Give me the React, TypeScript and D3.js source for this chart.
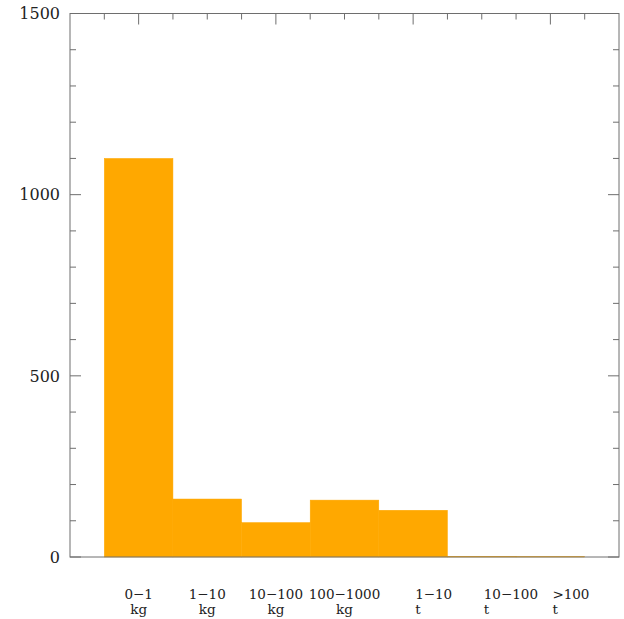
import React from "react";
import * as d3 from "d3";

// mass bins and counts
const categories = ["0−1", "1−10", "10−100", "100−1000", "1−10", "10−100", ">100"];
const units = ["kg", "kg", "kg", "kg", "t", "t", "t"];
const counts = [1100, 160, 95, 157, 129, 2, 1];
const yTicks = [0, 500, 1000, 1500];

const W = 624;
const H = 619;
const margin = { top: 13.5, right: 5, bottom: 62, left: 70 };

export default function App() {
  const x = d3.scaleLinear().domain([0, 8]).range([margin.left, W - margin.right]);
  const y = d3.scaleLinear().domain([0, 1500]).range([H - margin.bottom, margin.top]);

  const yMinor = d3.range(0, 1501, 100);
  const xMinor = d3.range(0.5, 8, 0.5);
  const frame = "#6e6e6e";
  const font = "DejaVu Serif, serif";

  return (
    <svg
      width={W}
      height={H}
      style={{ position: "absolute", left: 0, top: 0, background: "#fff" }}
    >
      {/* bars */}
      {counts.map((d, i) => (
        <rect
          key={"b" + i}
          x={x(i + 0.5)}
          y={y(d)}
          width={x(i + 1.5) - x(i + 0.5)}
          height={y(0) - y(d)}
          fill="#FFA800"
          stroke="#FFA800"
          strokeWidth={0.5}
        />
      ))}

      {/* frame */}
      <rect
        x={x(0)}
        y={y(1500)}
        width={x(8) - x(0)}
        height={y(0) - y(1500)}
        fill="none"
        stroke={frame}
        strokeWidth={1}
      />

      {/* left & right ticks */}
      {yMinor.map((v) => {
        const len = v % 500 === 0 ? 11 : 6;
        return (
          <g key={"y" + v} stroke={frame} strokeWidth={1}>
            <line x1={x(0)} x2={x(0) + len} y1={y(v)} y2={y(v)} />
            <line x1={x(8)} x2={x(8) - len} y1={y(v)} y2={y(v)} />
          </g>
        );
      })}

      {/* top ticks */}
      {xMinor.map((v) => {
        const len = v % 2 === 1 ? 11 : 6;
        return (
          <line
            key={"x" + v}
            x1={x(v)}
            x2={x(v)}
            y1={y(1500)}
            y2={y(1500) + len}
            stroke={frame}
            strokeWidth={1}
          />
        );
      })}

      {/* y labels */}
      {yTicks.map((v) => (
        <text
          key={"yl" + v}
          x={x(0) - 10}
          y={y(v)}
          dy="0.36em"
          textAnchor="end"
          fontFamily={font}
          fontSize={16}
          fill="#222"
        >
          {v}
        </text>
      ))}

      {/* category labels */}
      {categories.map((c, i) => {
        const cx = x(i + 1);
        const isT = units[i] === "t";
        const lx = isT ? cx + 2 : cx;
        const anchor = isT ? "start" : "middle";
        return (
          <g key={"c" + i} fontFamily={font} fontSize={13.5} fill="#222">
            <text x={lx} y={599} textAnchor={anchor}>
              {c}
            </text>
            <text x={lx} y={614} textAnchor={anchor}>
              {units[i]}
            </text>
          </g>
        );
      })}
    </svg>
  );
}
